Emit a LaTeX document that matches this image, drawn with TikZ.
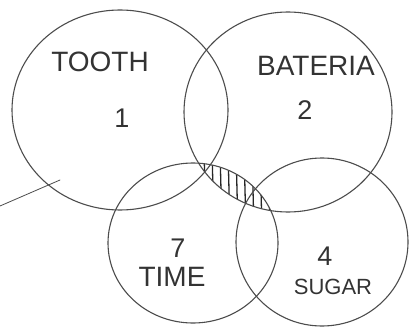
\documentclass[tikz,border=0pt]{standalone}
\usepackage{fontspec}
\setmainfont{Liberation Sans}
\begin{document}
\begin{tikzpicture}[x=1pt,y=-1pt,
  pen/.style={draw=black!70,line width=1.1pt,line cap=round},
  lbl/.style={text=black!80,font=\fontsize{28}{30}\selectfont,inner sep=0pt},
  num/.style={text=black!80,font=\fontsize{27}{29}\selectfont,inner sep=0pt}]
\useasboundingbox (0,0) rectangle (411,331);
% hatched lens: time circle inside bacteria circle
\begin{scope}
  \clip (193,243) ellipse [x radius=85pt, y radius=80pt];
  \clip (288,112) ellipse [x radius=104pt, y radius=100pt];
  \foreach \xx in {196,204,...,276} {
    \draw[black!85,line width=1.3pt] (\xx,150) -- (\xx+2,230);
  }
\end{scope}
% circles
\draw[pen] (120,110) ellipse [x radius=108pt, y radius=100pt];
\draw[pen] (288,112) ellipse [x radius=104pt, y radius=100pt];
\draw[pen] (193,243) ellipse [x radius=85pt, y radius=80pt];
\draw[pen] (322,242) ellipse [x radius=86pt, y radius=84pt];
% stray line
\coordinate (s1) at (0,206);
\coordinate (s2) at (60,180);
\draw[pen,line width=0.8pt] (s1) -- (s2);
% labels
\node[lbl] (tooth) at (100,62) {TOOTH};
\node[num] (n1) at (122,118) {1};
\node[lbl] (bact) at (316,66) {BATERIA};
\node[num] (n2) at (305,110) {2};
\node[num] (n7) at (178,248) {7};
\node[lbl] (time) at (172,277) {TIME};
\node[num] (n4) at (325,256) {4};
\node[lbl,font=\fontsize{22}{24}\selectfont] (sugar) at (333,287) {SUGAR};
\end{tikzpicture}
\end{document}
